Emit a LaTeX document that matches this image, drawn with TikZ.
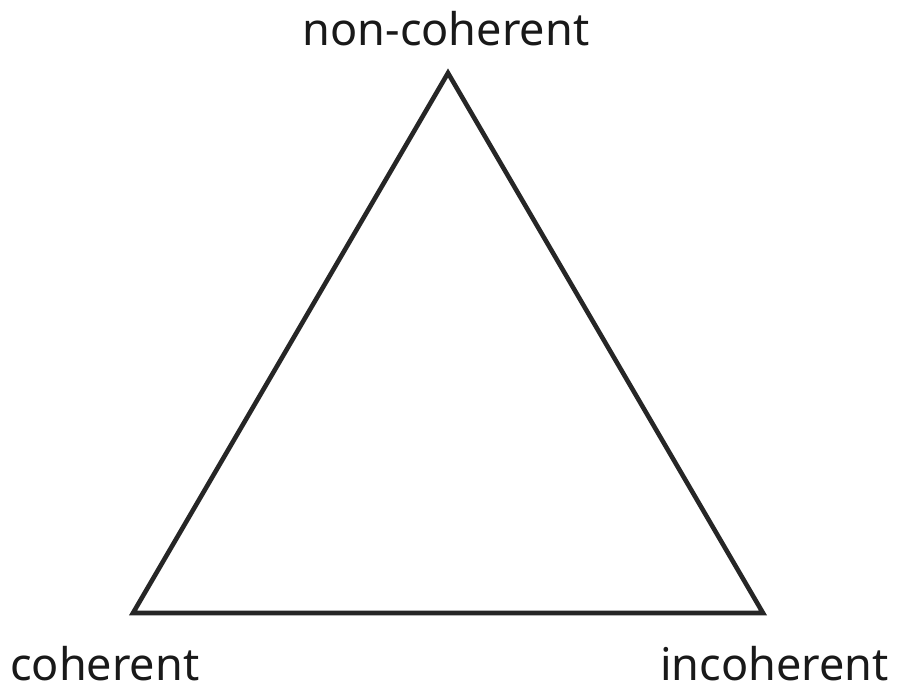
\documentclass[tikz,border=0pt]{standalone}
\usepackage{fontspec}
\setmainfont{Noto Sans}
\begin{document}
\begin{tikzpicture}[x=1pt,y=-1pt,
  lbl/.style={inner sep=0pt,font=\fontsize{45}{54}\selectfont,text=black!90},
  tri/.style={draw=black!85,line width=4.6pt,line join=miter}]
\useasboundingbox[fill=white] (0,0) rectangle (900,689);
\coordinate (t) at (448,73);
\coordinate (l) at (133,613);
\coordinate (r) at (763,613);
\draw[tri] (t) -- (l) -- (r) -- cycle;
\node[lbl,anchor=base] (nc) at (446,45) {non-coherent};
\node[lbl,anchor=base west] (c) at (10,680) {coherent};
\node[lbl,anchor=base east] (ic) at (889,680) {incoherent};
\end{tikzpicture}
\end{document}
